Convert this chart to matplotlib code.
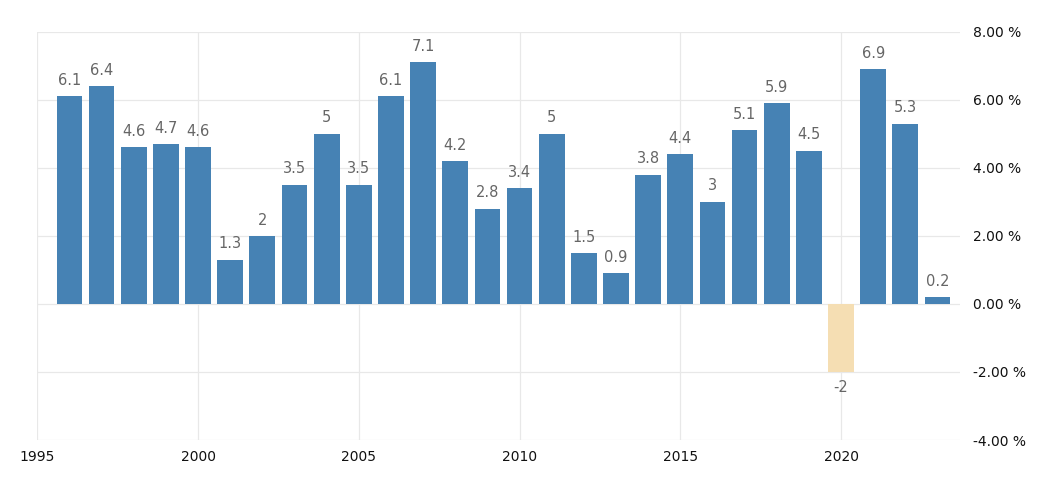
import matplotlib
matplotlib.use("Agg")
import matplotlib.pyplot as plt

years = list(range(1996, 2024))
values = [6.1, 6.4, 4.6, 4.7, 4.6, 1.3, 2, 3.5, 5, 3.5, 6.1, 7.1, 4.2, 2.8, 3.4, 5,
          1.5, 0.9, 3.8, 4.4, 3, 5.1, 5.9, 4.5, -2, 6.9, 5.3, 0.2]
labels = ["6.1", "6.4", "4.6", "4.7", "4.6", "1.3", "2", "3.5", "5", "3.5", "6.1", "7.1",
          "4.2", "2.8", "3.4", "5", "1.5", "0.9", "3.8", "4.4", "3", "5.1", "5.9", "4.5",
          "-2", "6.9", "5.3", "0.2"]
xticks = [1995, 2000, 2005, 2010, 2015, 2020]
yticks = [-4, -2, 0, 2, 4, 6, 8]

fig = plt.figure(figsize=(10.54, 4.78), dpi=100)
ax = fig.add_axes([37.3/1054, (478-440)/478, (960-37.3)/1054, (440-31.7)/478])

colors = ["#4682b4" if v >= 0 else "#f5deb3" for v in values]
bars = ax.bar(years, values, width=0.8, color=colors, zorder=3)

for b, v, lab in zip(bars, values, labels):
    x = b.get_x() + b.get_width() / 2
    if v >= 0:
        ax.annotate(lab, (x, v), xytext=(0, 6), textcoords="offset points",
                    ha="center", va="bottom", fontsize=10.5, color="#666666")
    else:
        ax.annotate(lab, (x, v), xytext=(0, -6), textcoords="offset points",
                    ha="center", va="top", fontsize=10.5, color="#666666")

ax.set_xlim(1995, 2023.7)
ax.set_ylim(-4, 8)
ax.set_xticks(xticks)
ax.set_xticklabels([str(t) for t in xticks], fontsize=10)
ax.set_yticks(yticks)
ax.yaxis.tick_right()
ax.set_yticklabels([f"{t:.2f} %" for t in yticks], fontsize=10)
ax.tick_params(axis="both", length=0, colors="#111111")
ax.tick_params(axis="y", pad=9)
ax.tick_params(axis="x", pad=7)
ax.grid(True, color="#e8e8e8", linewidth=0.9, zorder=0)
for s in ax.spines.values():
    s.set_visible(False)

fig.savefig("out.png", dpi=100, facecolor="white")
